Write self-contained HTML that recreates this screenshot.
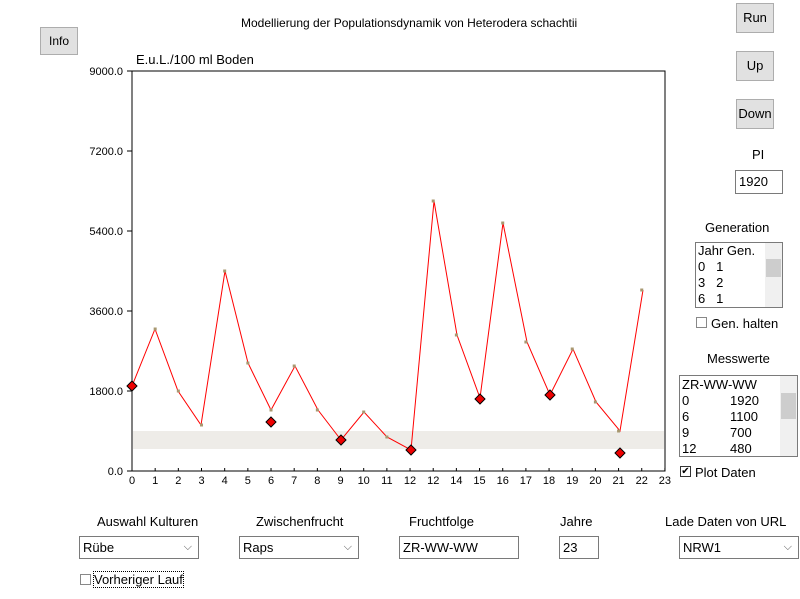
<!DOCTYPE html>
<html><head><meta charset="utf-8"><style>
body{margin:0;width:800px;height:599px;background:#fff;font-family:"Liberation Sans",Arial,sans-serif;position:relative;overflow:hidden}
.a{position:absolute;font-size:12px;color:#000}
.btn{position:absolute;background:#e1e1e1;border:1px solid #adadad;font-size:12px;text-align:center;box-sizing:border-box}
.box{position:absolute;border:1px solid #7a7a7a;background:#fff;font-size:13px;box-sizing:border-box;padding-left:3px}
.sel:after{content:"⌵";position:absolute;right:6px;top:0;font-size:11px;color:#555}
.cb{position:absolute;width:11px;height:11px;border:1px solid #333;box-sizing:border-box;background:#fff}
.sb{position:absolute;right:0;top:0;bottom:0;width:17px;background:#f0f0f0}
.sb i{position:absolute;left:1px;right:1px;background:#cdcdcd}
</style></head><body>
<div class="a" style="left:241px;top:16px;">Modellierung der Populationsdynamik von Heterodera schachtii</div>
<div class="btn" style="left:40px;top:27px;width:38px;height:28px;line-height:26px">Info</div>
<div class="btn" style="left:736px;top:3px;width:38px;height:30px;line-height:28px;font-size:13px">Run</div>
<div class="btn" style="left:736px;top:51px;width:38px;height:30px;line-height:28px;font-size:13px">Up</div>
<div class="btn" style="left:736px;top:99px;width:38px;height:30px;line-height:28px;font-size:13px">Down</div>
<div class="a" style="left:752px;top:147px;font-size:13px">PI</div>
<div class="box" style="left:735px;top:170px;width:48px;height:24px;line-height:22px">1920</div>
<div class="a" style="left:705px;top:220px;font-size:13px">Generation</div>
<div class="box" style="left:695px;top:242px;width:88px;height:66px;line-height:16px;font-size:13px;padding-left:2px">Jahr Gen.<br>0&nbsp;&nbsp;&nbsp;1<br>3&nbsp;&nbsp;&nbsp;2<br>6&nbsp;&nbsp;&nbsp;1<div class="sb"><i style="top:16px;height:18px"></i></div></div>
<div class="cb" style="left:696px;top:317px;border-color:#888"></div>
<div class="a" style="left:711px;top:316px;font-size:13px">Gen. halten</div>
<div class="a" style="left:707px;top:351px;font-size:13px">Messwerte</div>
<div class="box" style="left:679px;top:375px;width:119px;height:82px;line-height:16px;font-size:13px;padding-left:2px;padding-top:1px">ZR-WW-WW<br>0<span style="position:absolute;left:50px">1920</span><br>6<span style="position:absolute;left:50px">1100</span><br>9<span style="position:absolute;left:50px">700</span><br>12<span style="position:absolute;left:50px">480</span><div class="sb"><i style="top:17px;height:26px"></i></div></div>
<div class="cb" style="left:680px;top:466px;font-size:10px;line-height:9px;text-align:center">✔</div>
<div class="a" style="left:695px;top:465px;font-size:13px">Plot Daten</div>
<div class="a" style="left:136px;top:52px;font-size:13px">E.u.L./100 ml Boden</div>
<svg style="position:absolute;left:0;top:0" width="800" height="599">
<rect x="132" y="71" width="533" height="400" fill="#fff" stroke="#000"/>
<rect x="133" y="431" width="531" height="18" fill="#eeece8"/>
<g font-size="11" text-anchor="end" font-family="Liberation Sans">
<text x="123" y="75">9000.0</text><text x="123" y="155">7200.0</text><text x="123" y="235">5400.0</text><text x="123" y="315">3600.0</text><text x="123" y="395">1800.0</text><text x="123" y="475">0.0</text></g>
<g stroke="#000"><line x1="127" y1="71" x2="132" y2="71"/><line x1="127" y1="151" x2="132" y2="151"/><line x1="127" y1="231" x2="132" y2="231"/><line x1="127" y1="311" x2="132" y2="311"/><line x1="127" y1="391" x2="132" y2="391"/><line x1="127" y1="471" x2="132" y2="471"/></g>
<g font-size="11" text-anchor="middle" font-family="Liberation Sans" id="xl"></g>
<polyline fill="none" stroke="#f00" stroke-width="1" points="132,386 155,329 178,391 201,425 225,271 248,363 271,410 295,366 318,410 341,440 364,412 387,437 411,450 434,201 457,335 480,398 503,223 527,342 550,395 573,349 596,402 620,431 643,290"/>
<g fill="#a89870" id="pts"></g>
<g fill="#e00" stroke="#000" stroke-width="1">
<path d="M132,381 l5,5 -5,5 -5,-5z"/><path d="M271,417 l5,5 -5,5 -5,-5z"/><path d="M341,435 l5,5 -5,5 -5,-5z"/><path d="M411,445 l5,5 -5,5 -5,-5z"/><path d="M480,394 l5,5 -5,5 -5,-5z"/><path d="M550,390 l5,5 -5,5 -5,-5z"/><path d="M620,448 l5,5 -5,5 -5,-5z"/></g>
</svg>
<script>
var ys=[386,329,391,425,271,363,410,366,410,440,412,437,450,201,335,398,223,342,395,349,402,431,290];
var lab=["0","1","2","3","4","5","6","7","8","9","10","11","12","12","14","15","16","17","18","19","20","21","22","23"];
var s="",p="";
for(var i=0;i<24;i++){var x=132+i*23.17;s+='<text x="'+x+'" y="484">'+lab[i]+'</text><line x1="'+x+'" y1="468" x2="'+x+'" y2="471" stroke="#000"/>';
if(i<23)p+='<rect x="'+(x-1.5)+'" y="'+(ys[i]-1.5)+'" width="3" height="3"/>';}
document.getElementById("xl").innerHTML=s;document.getElementById("pts").innerHTML=p;
</script>
<div class="a" style="left:97px;top:514px;font-size:13px">Auswahl Kulturen</div>
<div class="a" style="left:256px;top:514px;font-size:13px">Zwischenfrucht</div>
<div class="a" style="left:409px;top:514px;font-size:13px">Fruchtfolge</div>
<div class="a" style="left:560px;top:514px;font-size:13px">Jahre</div>
<div class="a" style="left:665px;top:514px;font-size:13px">Lade Daten von URL</div>
<div class="box sel" style="left:79px;top:536px;width:120px;height:23px;line-height:21px">Rübe</div>
<div class="box sel" style="left:239px;top:536px;width:120px;height:23px;line-height:21px">Raps</div>
<div class="box" style="left:399px;top:536px;width:120px;height:23px;line-height:21px">ZR-WW-WW</div>
<div class="box" style="left:559px;top:536px;width:40px;height:23px;line-height:21px">23</div>
<div class="box sel" style="left:679px;top:536px;width:120px;height:23px;line-height:21px">NRW1</div>
<div class="cb" style="left:80px;top:574px;border-color:#888"></div>
<div class="a" style="left:94px;top:572px;font-size:13px;outline:1px dotted #000">Vorheriger Lauf</div>
</body></html>
